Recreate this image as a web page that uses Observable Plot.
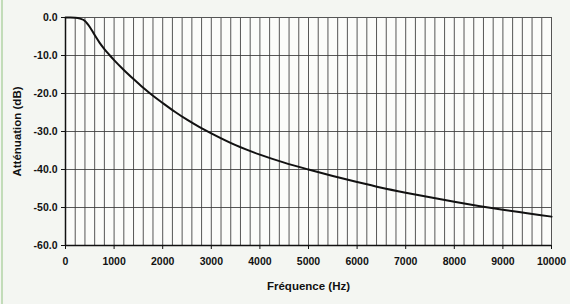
<!DOCTYPE html>
<html>
<head>
<meta charset="utf-8">
<script src="https://cdn.jsdelivr.net/npm/d3@7"></script>
<script src="https://cdn.jsdelivr.net/npm/@observablehq/plot@0.6"></script>
<style>
  html, body { margin: 0; padding: 0; background: #f4f6f2; }
  body::before { content: ""; position: fixed; left: 1px; top: 0; width: 2px; height: 304px; background: #c2dcb9; }
  #chart svg { display: block; }
  #chart svg g[aria-label="x-axis label"] text, #chart svg g[aria-label="y-axis label"] text { font-size: 11.5px; }
</style>
</head>
<body>
<div id="chart"></div>
<script>
const freqs = [0, 100, 200, 300, 400, 500, 600, 700, 800, 900, 1000, 1200, 1400, 1600, 1800, 2000, 2250, 2500, 2750, 3000, 3500, 4000, 4500, 5000, 5500, 6000, 6500, 7000, 7500, 8000, 8500, 9000, 9500, 10000];
const attenuation = [0, 0, -0.05, -0.3, -0.9, -2.5, -4.6, -6.6, -8.3, -9.8, -11.2, -13.8, -16.2, -18.5, -20.6, -22.5, -24.8, -26.9, -28.8, -30.5, -33.6, -36.1, -38.2, -40.0, -41.7, -43.3, -44.8, -46.1, -47.3, -48.5, -49.6, -50.6, -51.5, -52.4];
const xTicks = [0, 1000, 2000, 3000, 4000, 5000, 6000, 7000, 8000, 9000, 10000];
const yTicks = [0, -10, -20, -30, -40, -50, -60];
const xLabel = "Fréquence (Hz)";
const yLabel = "Atténuation (dB)";

const data = freqs.map((f, i) => ({f, a: attenuation[i]}));
const xGrid = d3.range(0, 10001, 200);

const chart = Plot.plot({
  width: 570,
  height: 304,
  marginLeft: 65,
  marginRight: 19,
  marginTop: 17,
  marginBottom: 59,
  style: {background: "#f4f6f2", fontFamily: "'Liberation Sans', Arial, sans-serif", fontSize: "10.5px", fontWeight: "bold", color: "#111"},
  x: {domain: [0, 10000]},
  y: {domain: [-60, 0]},
  marks: [
    Plot.frame({fill: "#fbfcfa", stroke: "none"}),
    Plot.gridX(xGrid, {stroke: "#3a3a3a", strokeOpacity: 0.85, strokeWidth: 1}),
    Plot.gridY(yTicks, {stroke: "#3a3a3a", strokeOpacity: 0.85, strokeWidth: 1}),
    Plot.frame({stroke: "#555"}),
    Plot.ruleX([0], {stroke: "#111", strokeWidth: 1.5}),
    Plot.ruleY([-60], {stroke: "#111", strokeWidth: 1.5}),
    Plot.axisX(xTicks, {tickSize: 4, tickPadding: 8, tickFormat: d => String(d), label: xLabel, labelAnchor: "center", labelArrow: "none", labelOffset: 44}),
    Plot.axisY(yTicks, {tickSize: 4, tickPadding: 4, tickFormat: d => d.toFixed(1), label: yLabel, labelAnchor: "center", labelArrow: "none", labelOffset: 53}),
    Plot.line(data, {x: "f", y: "a", stroke: "#111", strokeWidth: 2, curve: "monotone-x"})
  ]
});
document.getElementById("chart").appendChild(chart);
</script>
</body>
</html>
